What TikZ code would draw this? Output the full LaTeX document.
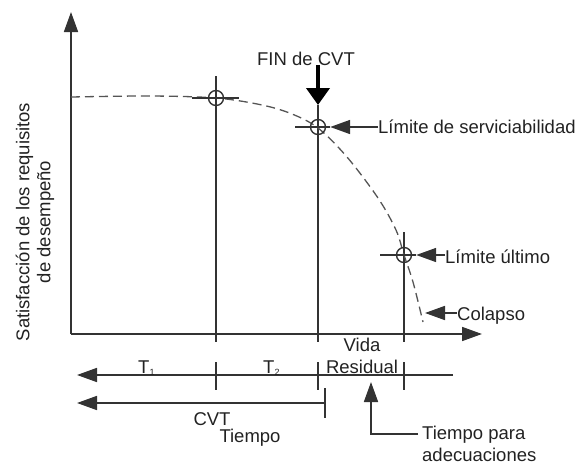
\documentclass[tikz,border=0pt]{standalone}
\usepackage{fontspec}
\setmainfont{Liberation Sans}
\usetikzlibrary{arrows.meta}
\definecolor{linegray}{HTML}{333333}
\definecolor{textgray}{HTML}{222222}
\definecolor{curvegray}{HTML}{555555}
\newcommand{\smallsub}[1]{{\fontsize{9}{10}\selectfont\raisebox{-2.5pt}{#1}}}
\begin{document}
\begin{tikzpicture}[x=1pt,y=-1pt,
  line/.style={draw=linegray, line width=1.7pt},
  tip/.style={-{Triangle[length=20pt,width=14pt]}},
  lbl/.style={font=\fontsize{18.5}{21}\selectfont, text=textgray, inner sep=0pt},
  markcirc/.style={circle, draw=linegray, line width=1.4pt, minimum size=15pt, inner sep=0pt},
  curve/.style={draw=curvegray, line width=1.3pt, dash pattern=on 9pt off 5pt}]
\useasboundingbox (0,0) rectangle (584,464);

% axes
\coordinate (O) at (71,334);
\coordinate (ytop) at (71,12);
\coordinate (xend) at (482,334);
\draw[line, tip] (O) -- (ytop);
\draw[line, tip] (O) -- (xend);

% y label
\node[lbl, rotate=90, align=center] (ylab) at (35,222)
  {Satisfacción de los requisitos\\de desempeño};

% vertical lines
\coordinate (v1t) at (216,76);  \coordinate (v1b) at (216,342);
\coordinate (v2t) at (318,105); \coordinate (v2b) at (318,342);
\coordinate (v3t) at (404,232); \coordinate (v3b) at (404,342);
\draw[line] (v1t) -- (v1b);
\draw[line] (v2t) -- (v2b);
\draw[line] (v3t) -- (v3b);

% dashed curve
\draw[curve] plot[smooth, tension=0.55] coordinates
  {(71,97) (150,96) (216,98) (262,105) (292,114) (318,128) (347,157) (378,198) (396,230) (404,255) (413,282) (423,322)};

% circles and ticks
\node[markcirc] (c1) at (216,98) {};
\node[markcirc] (c2) at (318,127) {};
\node[markcirc] (c3) at (404,255) {};
\coordinate (h1a) at (192,98);  \coordinate (h1b) at (239,98);
\coordinate (h2a) at (295,127); \coordinate (h2b) at (330,127);
\coordinate (h3a) at (380,255); \coordinate (h3b) at (416,255);
\draw[line] (h1a) -- (h1b);
\draw[line] (h2a) -- (h2b);
\draw[line] (h3a) -- (h3b);

% FIN de CVT
\node[lbl, anchor=base] (fin) at (306,65) {FIN de CVT};
\coordinate (finA) at (318,65);
\draw[draw=black, line width=4pt, -{Triangle[length=17pt,width=23pt]}] (finA) -- (v2t);

% right labels
\node[lbl, anchor=base west] (lserv) at (378,133) {Límite de serviciabilidad};
\node[lbl, anchor=base west] (lult) at (445,263) {Límite último};
\node[lbl, anchor=base west] (colapso) at (457,320) {Colapso};
\coordinate (coltip) at (425,313);
\draw[line, tip] (lserv.west |- c2) -- ([xshift=4pt]c2.east);
\draw[line, tip] (lult.west |- c3) -- ([xshift=4pt]c3.east);
\draw[line, tip] (colapso.west |- coltip) -- (coltip);

% Vida Residual
\node[lbl, anchor=base] (vida) at (362,351) {Vida};
\node[lbl, anchor=base] (resid) at (362,373) {Residual};

% timeline 1
\coordinate (t1e) at (453,375); \coordinate (t1s) at (77,375);
\draw[line, tip] (t1e) -- (t1s);
\foreach \x/\n in {216/a,318/b,404/c}{
  \coordinate (k\n1) at (\x,362); \coordinate (k\n2) at (\x,390);
  \draw[line] (k\n1) -- (k\n2);
}
\node[lbl, anchor=base west] (T1) at (138,373) {T\smallsub{1}};
\node[lbl, anchor=base west] (T2) at (263,373) {T\smallsub{2}};

% timeline 2
\coordinate (t2e) at (325,403); \coordinate (t2s) at (77,403);
\draw[line, tip] (t2e) -- (t2s);
\coordinate (k2a) at (325,388); \coordinate (k2b) at (325,418);
\draw[line] (k2a) -- (k2b);
\node[lbl, anchor=base] (cvt) at (212,425) {CVT};
\node[lbl, anchor=base] (tiempo) at (250,442) {Tiempo};

% Tiempo para adecuaciones
\node[lbl, anchor=base west] (tpa) at (422,439) {Tiempo para};
\node[lbl, anchor=base west] (adec) at (422,461) {adecuaciones};
\coordinate (adtip) at (371,382);
\draw[line, tip] ([xshift=-4pt]tpa.west) -| (adtip);
\end{tikzpicture}
\end{document}
